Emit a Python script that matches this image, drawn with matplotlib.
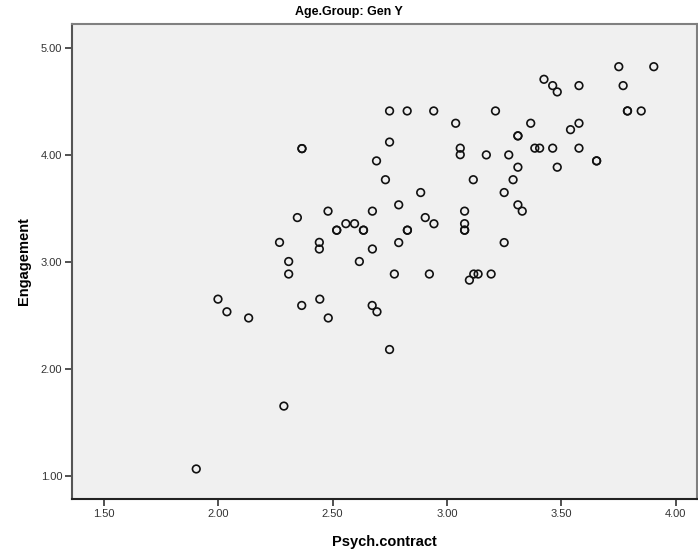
import matplotlib
matplotlib.use("Agg")
import matplotlib.pyplot as plt

plt.rcParams['font.family'] = ['Liberation Sans', 'DejaVu Sans']

# values (repeated pairs = overlapping points)
psych = [1.904, 1.999, 2.038, 2.133, 2.287, 2.268, 2.308, 2.308, 2.346,
         2.366, 2.366, 2.365, 2.442, 2.442, 2.444, 2.480, 2.481,
         2.518, 2.518, 2.558, 2.596, 2.617, 2.635, 2.635, 2.674, 2.674,
         2.673, 2.694, 2.692, 2.731, 2.749, 2.749, 2.749, 2.770, 2.789,
         2.789, 2.826, 2.827, 2.827, 2.885, 2.905, 2.943, 2.942, 2.923,
         3.038, 3.058, 3.058, 3.077, 3.077, 3.077, 3.077, 3.115, 3.098,
         3.117, 3.136, 3.172, 3.193, 3.212, 3.250, 3.250, 3.270, 3.289,
         3.310, 3.310, 3.310, 3.310, 3.329, 3.366, 3.384, 3.405, 3.424,
         3.462, 3.462, 3.482, 3.482, 3.540, 3.577, 3.577, 3.577, 3.654,
         3.654, 3.751, 3.770, 3.789, 3.789, 3.849, 3.904]
engage = [1.063, 2.651, 2.533, 2.475, 1.651, 3.182, 3.003, 2.886, 3.414,
          4.059, 4.059, 2.592, 3.182, 3.120, 2.651, 3.474, 2.475,
          3.296, 3.296, 3.357, 3.357, 3.003, 3.296, 3.296, 3.474, 3.120,
          2.592, 2.533, 3.944, 3.768, 4.411, 4.120, 2.180, 2.886, 3.533,
          3.180, 4.411, 3.296, 3.296, 3.648, 3.414, 3.356, 4.411, 2.886,
          4.296, 4.063, 4.002, 3.474, 3.357, 3.296, 3.296, 3.768, 2.829,
          2.886, 2.886, 4.000, 2.886, 4.411, 3.648, 3.180, 4.000, 3.768,
          4.178, 4.178, 3.885, 3.533, 3.474, 4.296, 4.063, 4.063, 4.707,
          4.648, 4.063, 4.589, 3.885, 4.236, 4.648, 4.296, 4.063, 3.944,
          3.944, 4.825, 4.648, 4.411, 4.411, 4.411, 4.825]

x_ticks = [1.5, 2.0, 2.5, 3.0, 3.5, 4.0]
y_ticks = [1.0, 2.0, 3.0, 4.0, 5.0]

fig = plt.figure(figsize=(6.98, 5.56), dpi=100)
ax = fig.add_axes([0.1032, 0.1025, 0.8954, 0.8543])
ax.set_facecolor('#f0f0f0')

ax.scatter(psych, engage, s=30, facecolors='none', edgecolors='#111111',
           linewidths=1.2, zorder=3)

ax.set_xlim(1.361, 4.093)
ax.set_ylim(0.782, 5.224)
ax.set_xticks(x_ticks)
ax.set_xticklabels(['%.2f' % v for v in x_ticks])
ax.set_yticks(y_ticks)
ax.set_yticklabels(['%.2f' % v for v in y_ticks])
ax.tick_params(direction='out', length=5, width=1.2, labelsize=8,
               labelcolor='#333333', color='#333333', pad=2)

for side in ['top', 'right']:
    ax.spines[side].set_color('#808080')
    ax.spines[side].set_linewidth(1.5)
ax.spines['left'].set_color('#555555')
ax.spines['left'].set_linewidth(1.5)
ax.spines['bottom'].set_color('#222222')
ax.spines['bottom'].set_linewidth(1.5)

ax.set_xlabel('Psych.contract', fontsize=10.5, fontweight='bold', labelpad=12)
ax.set_ylabel('Engagement', fontsize=10.5, fontweight='bold', labelpad=7)
fig.text(0.5, 0.99, 'Age.Group: Gen Y', ha='center', va='top',
         fontsize=9, fontweight='bold')

fig.savefig('out.png', dpi=100)
